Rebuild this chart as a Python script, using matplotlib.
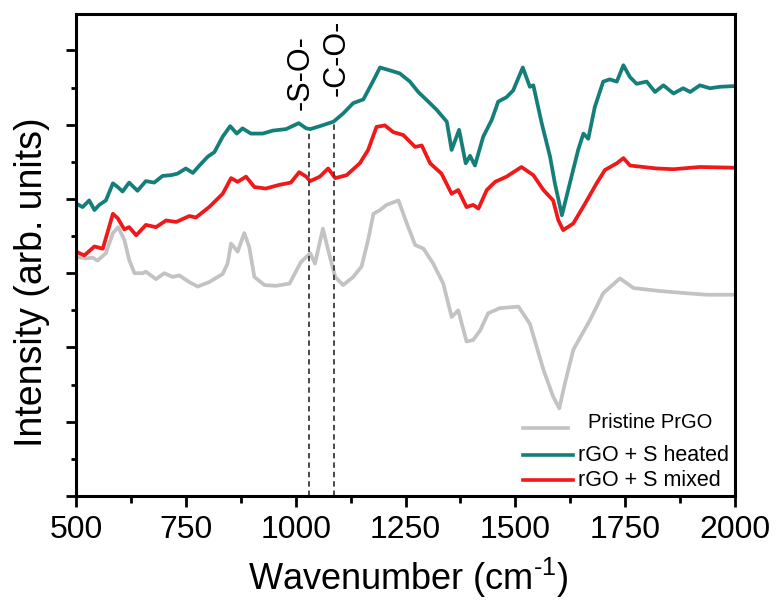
import matplotlib
matplotlib.use("Agg")
import matplotlib.pyplot as plt
from matplotlib.ticker import MultipleLocator, NullFormatter

plt.rcParams['font.family'] = ['Liberation Sans', 'DejaVu Sans']
plt.rcParams['mathtext.default'] = 'regular'

# ---- data ----
heated_x = [500, 515, 530, 542, 553, 568, 584, 595, 606, 621, 640, 659, 678, 697, 716, 731,
            750, 766, 781, 800, 815, 834, 851, 866, 879, 898, 925, 948, 978, 1007, 1024,
            1033, 1055, 1086, 1108, 1131, 1154, 1173, 1192, 1215, 1237, 1260, 1279, 1302,
            1321, 1344, 1355, 1372, 1387, 1397, 1408, 1427, 1446, 1461, 1480, 1495, 1517,
            1533, 1541, 1560, 1579, 1590, 1606, 1624, 1643, 1655, 1666, 1681, 1700, 1715,
            1731, 1746, 1761, 1776, 1799, 1818, 1837, 1860, 1882, 1898, 1920, 1943, 1966, 2000]
heated_y = [3.94, 3.89, 3.98, 3.85, 3.92, 3.98, 4.21, 4.16, 4.10, 4.22, 4.11, 4.24, 4.22, 4.31,
            4.32, 4.34, 4.41, 4.35, 4.45, 4.57, 4.63, 4.84, 4.98, 4.88, 4.95, 4.88, 4.88, 4.92,
            4.94, 5.02, 4.95, 4.94, 4.98, 5.04, 5.15, 5.29, 5.34, 5.55, 5.77, 5.73, 5.69, 5.58,
            5.44, 5.31, 5.20, 5.04, 4.66, 4.93, 4.48, 4.58, 4.45, 4.84, 5.06, 5.31, 5.37, 5.46,
            5.77, 5.51, 5.53, 5.02, 4.57, 4.21, 3.78, 4.21, 4.66, 4.88, 4.81, 5.24, 5.58, 5.61,
            5.58, 5.80, 5.64, 5.55, 5.58, 5.44, 5.53, 5.42, 5.49, 5.44, 5.53, 5.49, 5.51, 5.52]

mixed_x = [500, 519, 542, 561, 584, 595, 610, 621, 637, 659, 682, 705, 728, 758, 773, 803,
           834, 853, 868, 887, 906, 932, 963, 989, 1008, 1024, 1033, 1055, 1074, 1090, 1116,
           1146, 1165, 1184, 1203, 1222, 1245, 1272, 1287, 1306, 1332, 1355, 1370, 1389, 1404,
           1416, 1435, 1454, 1480, 1514, 1541, 1564, 1586, 1598, 1609, 1632, 1659, 1685, 1704,
           1731, 1746, 1761, 1791, 1822, 1860, 1920, 2000]
mixed_y = [3.29, 3.24, 3.36, 3.33, 3.80, 3.74, 3.59, 3.62, 3.51, 3.65, 3.62, 3.71, 3.69, 3.77,
           3.75, 3.89, 4.07, 4.28, 4.23, 4.30, 4.16, 4.14, 4.19, 4.22, 4.36, 4.30, 4.24, 4.30,
           4.41, 4.28, 4.32, 4.48, 4.66, 4.97, 4.99, 4.90, 4.86, 4.70, 4.72, 4.48, 4.34, 4.07,
           4.12, 3.89, 3.92, 3.87, 4.12, 4.23, 4.30, 4.43, 4.32, 4.12, 3.98, 3.71, 3.58, 3.67,
           3.94, 4.21, 4.39, 4.48, 4.55, 4.45, 4.43, 4.41, 4.40, 4.43, 4.42]

pristine_x = [500, 523, 538, 549, 568, 584, 596, 610, 621, 633, 652, 659, 682, 701, 720, 735,
              758, 777, 803, 834, 845, 853, 868, 883, 894, 906, 929, 955, 986, 1003, 1012,
              1033, 1044, 1062, 1074, 1090, 1108, 1131, 1150, 1165, 1177, 1192, 1207, 1234,
              1253, 1272, 1291, 1313, 1336, 1355, 1370, 1389, 1404, 1420, 1438, 1465, 1507,
              1533, 1564, 1586, 1600, 1613, 1632, 1670, 1700, 1738, 1769, 1799, 1829, 1890,
              1936, 2000]
pristine_y = [3.22, 3.20, 3.21, 3.17, 3.27, 3.54, 3.62, 3.45, 3.18, 3.00, 3.00, 3.02, 2.92,
              3.00, 2.95, 2.97, 2.88, 2.82, 2.88, 2.99, 3.13, 3.40, 3.29, 3.54, 3.36, 2.95,
              2.84, 2.83, 2.86, 3.05, 3.15, 3.27, 3.13, 3.60, 3.31, 2.95, 2.84, 2.95, 3.09,
              3.45, 3.80, 3.85, 3.92, 3.98, 3.67, 3.38, 3.33, 3.13, 2.86, 2.41, 2.50, 2.08,
              2.10, 2.23, 2.46, 2.53, 2.55, 2.32, 1.70, 1.34, 1.18, 1.52, 1.97, 2.37, 2.73,
              2.93, 2.80, 2.78, 2.76, 2.73, 2.71, 2.71]

labels = ["Pristine PrGO", "rGO + S heated", "rGO + S mixed"]
bond_labels = ["-S-O-", "-C-O-"]
bond_x = [1030, 1087]
bond_top = [4.92, 5.02]
bond_text_x = [1012, 1094]
bond_text_y = [5.70, 5.90]

grey = "#c3c3c3"
teal = "#147f79"
red = "#f01818"

fig = plt.figure(figsize=(7.8, 6.01), dpi=100)
ax = fig.add_axes([76/780, 105/601, 659/780, 482/601])

lw = 2.7
ax.plot(pristine_x, pristine_y, color=grey, lw=lw, solid_joinstyle='round')
ax.plot(mixed_x, mixed_y, color=red, lw=lw, solid_joinstyle='round')
ax.plot(heated_x, heated_y, color=teal, lw=lw, solid_joinstyle='round')

for bx, bt in zip(bond_x, bond_top):
    ax.plot([bx, bx], [0, bt], color="#3a3a3a", lw=1.3, ls=(0, (3, 2.2)))
for lab, tx, ty in zip(bond_labels, bond_text_x, bond_text_y):
    ax.text(tx, ty, lab, rotation=90, ha='center', va='center', fontsize=22)

ax.set_xlim(500, 2000)
ax.set_ylim(0, 6.49)
ax.xaxis.set_major_locator(MultipleLocator(250))
ax.xaxis.set_minor_locator(MultipleLocator(125))
ax.yaxis.set_major_locator(MultipleLocator(1))
ax.yaxis.set_minor_locator(MultipleLocator(0.5))
ax.yaxis.set_major_formatter(NullFormatter())

ax.tick_params(axis='x', which='major', direction='out', length=8, width=2, labelsize=23, pad=6)
ax.tick_params(axis='x', which='minor', direction='out', length=5, width=2)
ax.tick_params(axis='y', which='major', direction='out', length=7, width=2)
ax.tick_params(axis='y', which='minor', direction='out', length=3.5, width=2)
for s in ax.spines.values():
    s.set_linewidth(2.2)

ax.set_xlabel('Wavenumber (cm$^{\\mathregular{\u2010}1}$)', fontsize=26)
ax.set_ylabel('Intensity (arb. units)', fontsize=27)
ax.xaxis.set_label_coords(0.505, -0.125)
ax.yaxis.set_label_coords(-0.04, 0.444)

# legend drawn by hand (axes-fraction positions)
leg_colors = [grey, teal, red]
leg_line_y = [0.141, 0.085, 0.033]
leg_line_x1 = [0.747, 0.754, 0.754]
leg_text_x = [0.777, 0.762, 0.762]
leg_text_y = [0.153, 0.085, 0.033]
leg_sizes = [14.5, 15.5, 15.5]
for c, ly, lx1, lab, tx, ty, fs in zip(leg_colors, leg_line_y, leg_line_x1, labels,
                                        leg_text_x, leg_text_y, leg_sizes):
    ax.plot([0.678, lx1], [ly, ly], color=c, lw=2.6, transform=ax.transAxes, clip_on=False)
    ax.text(tx, ty, lab, transform=ax.transAxes, ha='left', va='center', fontsize=fs)

fig.savefig("out.png", dpi=100)
